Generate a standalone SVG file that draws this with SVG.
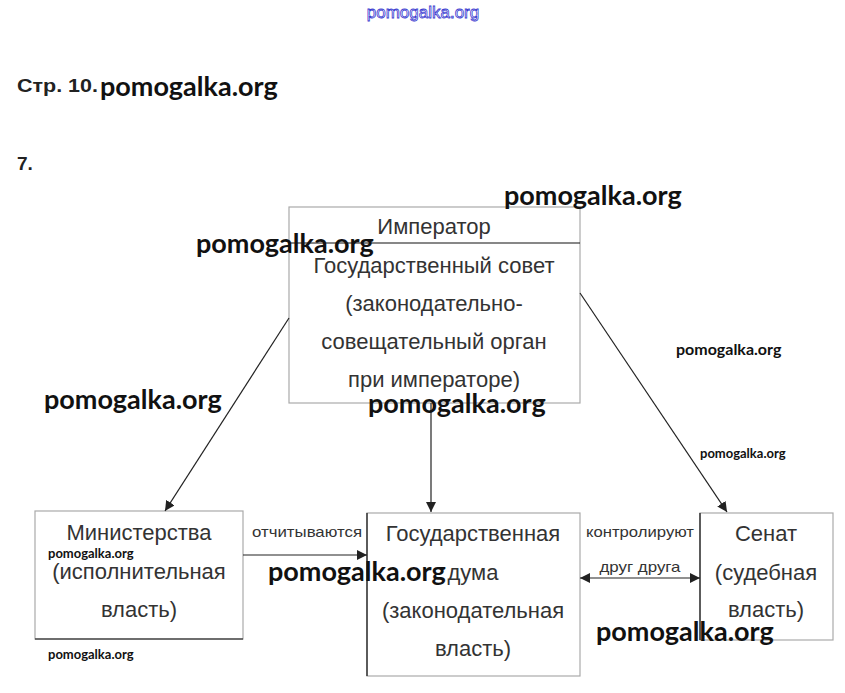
<svg xmlns="http://www.w3.org/2000/svg" width="845" height="693" viewBox="0 0 845 693">
<style>
.t{font-family:"Liberation Sans",Arial,sans-serif;font-size:22px;fill:#333;text-anchor:middle}
.s{font-family:"Liberation Sans",Arial,sans-serif;font-size:15px;fill:#333;text-anchor:middle}
.w{font-family:Lato,"Open Sans",sans-serif;font-weight:bold;fill:#111}
.g{fill:#fff;stroke:#aaa;stroke-width:1.2}
.k{stroke:#111;stroke-width:1.2;fill:none}
.c{stroke:#222;stroke-width:1.2;fill:none}
</style>
<defs>
<marker id="a" viewBox="0 0 10 10" refX="10" refY="5" markerWidth="10" markerHeight="10" markerUnits="userSpaceOnUse" orient="auto-start-reverse">
<path d="M0,0 L10,5 L0,10 Z" fill="#222"/>
</marker>
</defs>
<rect width="845" height="693" fill="#fff"/>
<text x="423" y="18" font-family="Liberation Sans,sans-serif" font-size="17" fill="#fff" stroke="#3a3ad0" stroke-width="0.8" text-anchor="middle">pomogalka.org</text>
<text x="17" y="92" font-family="Liberation Sans,sans-serif" font-weight="bold" font-size="19" fill="#222" textLength="81" lengthAdjust="spacingAndGlyphs">Стр. 10.</text>
<text x="17" y="170" font-family="Liberation Sans,sans-serif" font-weight="bold" font-size="19" fill="#222">7.</text>

<g id="emperor">
<rect class="g" x="289" y="207" width="291" height="196"/>
<line class="k" x1="289" y1="243" x2="580" y2="243"/>
<text class="t" x="434" y="234">Император</text>
<text class="t" x="434" y="273">Государственный совет</text>
<text class="t" x="434" y="311">(законодательно-</text>
<text class="t" x="434" y="349">совещательный орган</text>
<text class="t" x="434" y="387">при императоре)</text>
</g>
<g id="ministries">
<rect class="g" x="35" y="511" width="208" height="128"/>
<line class="k" x1="35" y1="639" x2="243" y2="639"/>
<text class="t" x="139" y="540">Министерства</text>
<text class="t" x="139" y="579">(исполнительная</text>
<text class="t" x="139" y="617">власть)</text>
</g>
<g id="duma">
<rect class="g" x="367" y="513" width="213" height="163"/>
<line class="k" x1="367" y1="513" x2="367" y2="676"/>
<text class="t" x="473" y="541">Государственная</text>
<text class="t" x="473" y="580">дума</text>
<text class="t" x="473" y="618">(законодательная</text>
<text class="t" x="473" y="656">власть)</text>
</g>
<g id="senate">
<rect class="g" x="700" y="513" width="133" height="127"/>
<line class="k" x1="700" y1="513" x2="700" y2="640"/>
<text class="t" x="766" y="541">Сенат</text>
<text class="t" x="766" y="580">(судебная</text>
<text class="t" x="766" y="617">власть)</text>
</g>
<g id="connectors">
<line class="c" x1="289" y1="318" x2="165" y2="511" marker-end="url(#a)"/>
<line class="c" x1="431" y1="403" x2="431" y2="512" marker-end="url(#a)"/>
<line class="c" x1="580" y1="293" x2="727" y2="512" marker-end="url(#a)"/>
<line class="c" x1="243" y1="555" x2="367" y2="555" marker-end="url(#a)"/>
<line class="c" x1="580" y1="578" x2="700" y2="578" marker-start="url(#a)" marker-end="url(#a)"/>
<text class="s" x="307" y="537" textLength="110" lengthAdjust="spacingAndGlyphs">отчитываются</text>
<text class="s" x="640" y="537" textLength="108" lengthAdjust="spacingAndGlyphs">контролируют</text>
<text class="s" x="640" y="572" textLength="81" lengthAdjust="spacingAndGlyphs">друг друга</text>
</g>

<g id="watermarks" class="w">
<text x="100" y="96" font-size="27">pomogalka.org</text>
<text x="504" y="205" font-size="27">pomogalka.org</text>
<text x="196" y="253" font-size="27">pomogalka.org</text>
<text x="676" y="355" font-size="16">pomogalka.org</text>
<text x="44" y="409" font-size="27">pomogalka.org</text>
<text x="368" y="413" font-size="27">pomogalka.org</text>
<text x="700" y="458" font-size="13">pomogalka.org</text>
<text x="48" y="558" font-size="13">pomogalka.org</text>
<text x="268" y="581" font-size="27">pomogalka.org</text>
<text x="596" y="641" font-size="27">pomogalka.org</text>
<text x="48" y="659" font-size="13">pomogalka.org</text>
</g>
</svg>
